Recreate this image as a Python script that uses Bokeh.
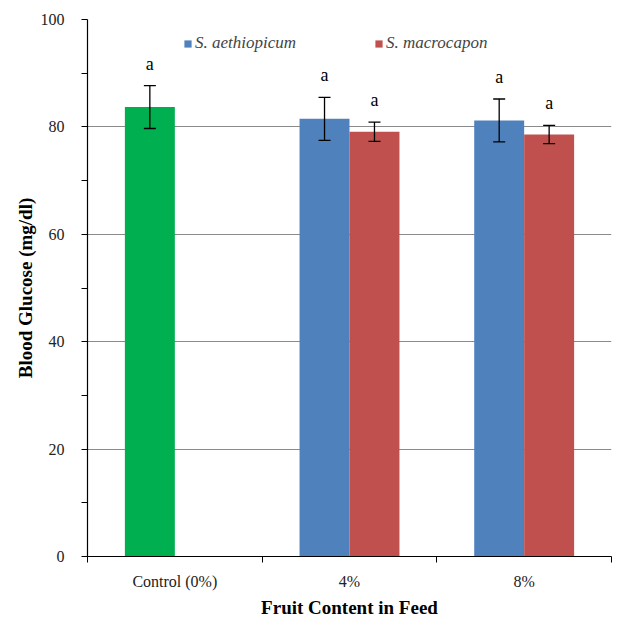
from bokeh.plotting import figure
from bokeh.models import (ColumnDataSource, FixedTicker, Whisker, TeeHead, Legend, LegendItem,
                          Range1d)
from bokeh.core.properties import value
from bokeh.embed import file_html
from bokeh.resources import INLINE

categories = ["Control (0%)", "4%", "8%"]
control_mean = [83.7]
control_sd = [4.0]
aeth_mean = [81.5, 81.2]
aeth_sd = [4.0, 4.0]
macro_mean = [79.1, 78.6]
macro_sd = [1.8, 1.7]
sig_labels = ["a", "a", "a", "a", "a"]
series_names = ["S. aethiopicum", "S. macrocapon"]
y_ticks = [0, 20, 40, 60, 80, 100]

FONT = "'Liberation Serif', 'Times New Roman', serif"
GREEN, BLUE, RED = "#00B050", "#4F81BD", "#C0504D"
BW = 0.286

p = figure(width=619, height=623, output_backend="svg", toolbar_location=None,
           x_range=Range1d(0, 3), y_range=Range1d(0, 100),
           min_border_left=87, min_border_right=8, min_border_top=19, min_border_bottom=67)
p.outline_line_color = None
p.background_fill_color = "white"
p.border_fill_color = "white"

ctrl_x = [0 + 0.5 - BW / 2]
aeth_x = [i + 0.5 - BW / 2 for i in (1, 2)]
macro_x = [i + 0.5 + BW / 2 for i in (1, 2)]

src_c = ColumnDataSource(dict(x=ctrl_x, top=control_mean,
                              lo=[m - s for m, s in zip(control_mean, control_sd)],
                              hi=[m + s for m, s in zip(control_mean, control_sd)]))
src_a = ColumnDataSource(dict(x=aeth_x, top=aeth_mean,
                              lo=[m - s for m, s in zip(aeth_mean, aeth_sd)],
                              hi=[m + s for m, s in zip(aeth_mean, aeth_sd)]))
src_m = ColumnDataSource(dict(x=macro_x, top=macro_mean,
                              lo=[m - s for m, s in zip(macro_mean, macro_sd)],
                              hi=[m + s for m, s in zip(macro_mean, macro_sd)]))

p.vbar(x="x", top="top", width=BW, source=src_c, fill_color=GREEN, line_color=None)
r_a = p.vbar(x="x", top="top", width=BW, source=src_a, fill_color=BLUE, line_color=None)
r_m = p.vbar(x="x", top="top", width=BW, source=src_m, fill_color=RED, line_color=None)

for s in (src_c, src_a, src_m):
    w = Whisker(base="x", lower="lo", upper="hi", source=s, line_color="black", line_width=1.3,
                level="overlay",
                upper_head=TeeHead(size=12, line_color="black", line_width=1.3),
                lower_head=TeeHead(size=12, line_color="black", line_width=1.3))
    p.add_layout(w)

lx = ctrl_x + aeth_x[:1] + macro_x[:1] + aeth_x[1:] + macro_x[1:]
ly = [src_c.data["hi"][0], src_a.data["hi"][0], src_m.data["hi"][0],
      src_a.data["hi"][1], src_m.data["hi"][1]]
p.text(x=lx, y=ly, text=sig_labels, text_font=value(FONT), text_font_size="18px",
       text_align="center", text_baseline="bottom", y_offset=-12, text_color="black")

p.yaxis.ticker = FixedTicker(ticks=y_ticks, minor_ticks=[10, 30, 50, 70, 90])
p.yaxis.axis_label = "Blood Glucose (mg/dl)"
p.xaxis.ticker = FixedTicker(ticks=[0.5, 1.5, 2.5], minor_ticks=[0, 1, 2, 3])
p.xaxis.major_label_overrides = {0.5: categories[0], 1.5: categories[1], 2.5: categories[2]}
p.xaxis.axis_label = "Fruit Content in Feed"
p.xaxis.major_tick_out = 0
p.xaxis.major_tick_in = 0
p.xaxis.minor_tick_out = 6
p.xaxis.minor_tick_in = 0
p.yaxis.major_tick_out = 6
p.yaxis.major_tick_in = 0
p.yaxis.minor_tick_out = 6
p.yaxis.minor_tick_in = 0
for ax in (p.xaxis, p.yaxis):
    ax.axis_line_color = "black"
    ax.axis_line_width = 1.2
    ax.major_tick_line_color = "black"
    ax.minor_tick_line_color = "black"
    ax.major_label_text_font = FONT
    ax.major_label_text_font_size = "16px"
    ax.major_label_text_color = "#222222"
    ax.axis_label_text_font = FONT
    ax.axis_label_text_font_size = "19px"
    ax.axis_label_text_font_style = "bold"
    ax.axis_label_text_color = "black"
p.yaxis.major_label_standoff = 17
p.yaxis.axis_label_standoff = 2
p.xaxis.major_label_standoff = 10
p.xaxis.axis_label_standoff = 4

p.xgrid.grid_line_color = None
p.ygrid.ticker = FixedTicker(ticks=y_ticks)
p.ygrid.grid_line_color = "#8a8a8a"
p.ygrid.grid_line_width = 1.2

legend = Legend(items=[LegendItem(label=series_names[0], renderers=[r_a]),
                       LegendItem(label=series_names[1], renderers=[r_m])],
                orientation="horizontal", location=(96, 503),
                label_text_font=FONT, label_text_font_style="italic", label_text_font_size="17px",
                glyph_width=9, glyph_height=9, spacing=78, padding=0, margin=0,
                label_standoff=3, background_fill_alpha=0, border_line_color=None)
p.add_layout(legend)

open("out.html", "w").write(file_html(p, INLINE))
